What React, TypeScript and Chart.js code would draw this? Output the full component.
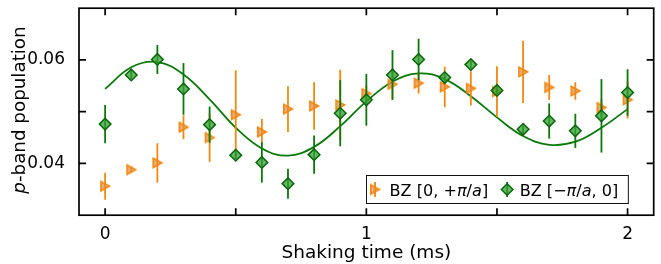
import React, { useEffect, useRef } from 'react';
import { Chart, registerables } from 'chart.js';

Chart.register(...registerables);

// ---- data ----
const times = [0, 0.1, 0.2, 0.3, 0.4, 0.5, 0.6, 0.7, 0.8, 0.9, 1.0, 1.1, 1.2, 1.3, 1.4, 1.5, 1.6, 1.7, 1.8, 1.9, 2.0];

const bzPlusValues = [0.0356, 0.0388, 0.0401, 0.0470, 0.0450, 0.0494, 0.0461, 0.0505, 0.0511, 0.0513, 0.0535, 0.0553, 0.0555, 0.0548, 0.0545, 0.0539, 0.0577, 0.0547, 0.0540, 0.0508, 0.0523];
const bzPlusErrors = [0.0026, 0.0006, 0.0038, 0.0023, 0.0047, 0.0086, 0.0025, 0.0044, 0.0046, 0.0068, 0.0015, 0.0030, 0.0020, 0.0039, 0.0033, 0.0049, 0.0060, 0.0024, 0.0017, 0.0016, 0.0036];

const bzMinusValues = [0.0476, 0.0571, 0.0601, 0.0544, 0.0475, 0.0416, 0.0402, 0.0361, 0.0417, 0.0497, 0.0523, 0.0571, 0.0601, 0.0566, 0.0591, 0.0541, 0.0466, 0.0482, 0.0463, 0.0492, 0.0537];
const bzMinusErrors = [0.0037, 0.0008, 0.0028, 0.0050, 0.0035, 0.0008, 0.0039, 0.0029, 0.0037, 0.0064, 0.0050, 0.0048, 0.0040, 0.0008, 0.0008, 0.0008, 0.0008, 0.0034, 0.0033, 0.0071, 0.0045];

const fitTimes = [0, 0.1, 0.2, 0.3, 0.4, 0.5, 0.6, 0.7, 0.8, 0.9, 1.0, 1.1, 1.2, 1.3, 1.4, 1.5, 1.6, 1.7, 1.8, 1.9, 2.0];
const fitValues = [0.0544, 0.0586, 0.0596, 0.0572, 0.0524, 0.0469, 0.0429, 0.0415, 0.0432, 0.0472, 0.0520, 0.0558, 0.0574, 0.0563, 0.0530, 0.0489, 0.0453, 0.0436, 0.0442, 0.0469, 0.0505];

const xTickValues = [0, 0.5, 1, 1.5, 2];
const xTickLabels = ['0', '', '1', '', '2'];
const yTickValues = [0.04, 0.05, 0.06];
const yTickLabels = ['0.04', '', '0.06'];

const xTitle = 'Shaking time (ms)';
const yTitleParts: [string, boolean][] = [['p', true], ['-band population', false]];
const legendPlusParts: [string, boolean][] = [['BZ [0, +', false], ['π', true], ['/', false], ['a', true], [']', false]];
const legendMinusParts: [string, boolean][] = [['BZ [−', false], ['π', true], ['/', false], ['a', true], [', 0]', false]];

// ---- styles ----
const FONT = '"DejaVu Sans"';
const ORANGE_EDGE = '#f0860c';
const ORANGE_FILL = 'rgba(228,140,60,0.72)';
const ORANGE_BAR = '#f0890f';
const GREEN_EDGE = '#0b650b';
const GREEN_FILL = 'rgba(50,160,50,0.75)';
const GREEN_BAR = '#0c780c';
const FIT_COLOR = '#0a780a';

function makeTriangle(fill: string, stroke: string): HTMLCanvasElement {
  const c = document.createElement('canvas');
  c.width = 14;
  c.height = 14;
  const g = c.getContext('2d')!;
  g.beginPath();
  g.moveTo(11.4, 7);
  g.lineTo(2.8, 2.2);
  g.lineTo(2.8, 11.8);
  g.closePath();
  g.fillStyle = fill;
  g.fill();
  g.lineWidth = 1.5;
  g.strokeStyle = stroke;
  g.stroke();
  return c;
}

function drawRich(ctx: CanvasRenderingContext2D, parts: [string, boolean][], x: number, y: number, size: number) {
  let cx = x;
  for (const [t, it] of parts) {
    ctx.font = `${it ? 'italic ' : ''}${size}px ${FONT}`;
    ctx.fillText(t, cx, y);
    cx += ctx.measureText(t).width;
  }
  return cx;
}

function richWidth(ctx: CanvasRenderingContext2D, parts: [string, boolean][], size: number) {
  let w = 0;
  for (const [t, it] of parts) {
    ctx.font = `${it ? 'italic ' : ''}${size}px ${FONT}`;
    w += ctx.measureText(t).width;
  }
  return w;
}

export default function App() {
  const ref = useRef<HTMLCanvasElement | null>(null);

  useEffect(() => {
    if (!ref.current) return;
    const tri = makeTriangle(ORANGE_FILL, ORANGE_EDGE);

    const decor = {
      id: 'decor',
      beforeDatasetDraw(chart: any, args: any) {
        const ds = chart.data.datasets[args.index];
        if (!ds.errors) return;
        const ys = chart.scales.y;
        const ctx = chart.ctx as CanvasRenderingContext2D;
        ctx.save();
        ctx.strokeStyle = ds.barColor;
        ctx.lineWidth = 1.8;
        args.meta.data.forEach((pt: any, i: number) => {
          const v = ds.data[i].y;
          const e = ds.errors[i];
          ctx.beginPath();
          ctx.moveTo(pt.x, ys.getPixelForValue(v + e));
          ctx.lineTo(pt.x, ys.getPixelForValue(v - e));
          ctx.stroke();
        });
        ctx.restore();
      },
      afterDraw(chart: any) {
        const ctx = chart.ctx as CanvasRenderingContext2D;
        const { left, right, top, bottom } = chart.chartArea;
        const xs = chart.scales.x;
        const ys = chart.scales.y;
        ctx.save();
        // ticks (inward, all four sides)
        ctx.strokeStyle = '#000';
        ctx.lineWidth = 1.7;
        const tl = 7;
        xTickValues.forEach((v) => {
          const px = xs.getPixelForValue(v);
          ctx.beginPath();
          ctx.moveTo(px, bottom);
          ctx.lineTo(px, bottom - tl);
          ctx.moveTo(px, top);
          ctx.lineTo(px, top + tl);
          ctx.stroke();
        });
        yTickValues.forEach((v) => {
          const py = ys.getPixelForValue(v);
          ctx.beginPath();
          ctx.moveTo(left, py);
          ctx.lineTo(left + tl, py);
          ctx.moveTo(right, py);
          ctx.lineTo(right - tl, py);
          ctx.stroke();
        });
        // frame
        ctx.lineWidth = 1.7;
        ctx.strokeRect(left, top, right - left, bottom - top);

        // legend
        const size = 16.1;
        const h1 = 375;
        const t1 = 389.5;
        const w1 = richWidth(ctx, legendPlusParts, size);
        const h2 = t1 + w1 + 19;
        const t2 = h2 + 12.5;
        const w2 = richWidth(ctx, legendMinusParts, size);
        const bx = 366.5;
        const by = 175.5;
        const bw = t2 + w2 + 10 - bx;
        const bh = 28;
        ctx.fillStyle = '#fff';
        ctx.fillRect(bx, by, bw, bh);
        ctx.strokeStyle = '#111';
        ctx.lineWidth = 1;
        ctx.strokeRect(bx, by, bw, bh);
        const cy = 189.5;
        // orange handle
        ctx.strokeStyle = ORANGE_BAR;
        ctx.lineWidth = 1.8;
        ctx.beginPath();
        ctx.moveTo(h1, cy - 7.5);
        ctx.lineTo(h1, cy + 7.5);
        ctx.stroke();
        ctx.drawImage(tri, h1 - tri.width / 2, cy - tri.height / 2);
        // green handle
        ctx.strokeStyle = GREEN_BAR;
        ctx.beginPath();
        ctx.moveTo(h2, cy - 7.5);
        ctx.lineTo(h2, cy + 7.5);
        ctx.stroke();
        const r = 5.8;
        ctx.beginPath();
        ctx.moveTo(h2, cy - r);
        ctx.lineTo(h2 + r, cy);
        ctx.lineTo(h2, cy + r);
        ctx.lineTo(h2 - r, cy);
        ctx.closePath();
        ctx.fillStyle = GREEN_FILL;
        ctx.fill();
        ctx.strokeStyle = GREEN_EDGE;
        ctx.lineWidth = 1.5;
        ctx.stroke();
        // legend texts
        ctx.fillStyle = '#000';
        ctx.textBaseline = 'alphabetic';
        ctx.textAlign = 'left';
        drawRich(ctx, legendPlusParts, t1, 195.5, size);
        drawRich(ctx, legendMinusParts, t2, 195.5, size);

        // y title
        const ysz = 18.3;
        const yw = richWidth(ctx, yTitleParts, ysz);
        ctx.translate(24.5, 110);
        ctx.rotate(-Math.PI / 2);
        drawRich(ctx, yTitleParts, -yw / 2, 0, ysz);
        ctx.restore();
      },
    };

    const chart = new Chart(ref.current, {
      type: 'scatter',
      data: {
        datasets: [
          {
            label: 'BZ [−π/a, 0]',
            data: times.map((t, i) => ({ x: t, y: bzMinusValues[i] })),
            errors: bzMinusErrors,
            barColor: GREEN_BAR,
            pointStyle: 'rectRot',
            pointRadius: 5.8,
            pointHoverRadius: 5.8,
            backgroundColor: GREEN_FILL,
            borderColor: GREEN_EDGE,
            borderWidth: 1.5,
            showLine: false,
          } as any,
          {
            label: 'BZ [0, +π/a]',
            data: times.map((t, i) => ({ x: t, y: bzPlusValues[i] })),
            errors: bzPlusErrors,
            barColor: ORANGE_BAR,
            pointStyle: tri,
            pointRadius: 5,
            pointHoverRadius: 5,
            backgroundColor: ORANGE_FILL,
            borderColor: ORANGE_EDGE,
            showLine: false,
          } as any,
          {
            type: 'line',
            label: 'fit',
            data: fitTimes.map((t, i) => ({ x: t, y: fitValues[i] })),
            borderColor: FIT_COLOR,
            borderWidth: 1.8,
            pointRadius: 0,
            tension: 0.4,
            fill: false,
          } as any,
        ],
      },
      options: {
        animation: false,
        responsive: false,
        devicePixelRatio: 1,
        layout: { padding: { top: 8.2, right: 6.5, left: 0, bottom: 0 } },
        plugins: { legend: { display: false }, tooltip: { enabled: false } },
        events: [],
        scales: {
          x: {
            type: 'linear',
            min: -0.1,
            max: 2.1,
            grid: { display: false },
            border: { display: false },
            afterBuildTicks: (s: any) => {
              s.ticks = xTickValues.map((v) => ({ value: v }));
            },
            afterFit: (s: any) => {
              s.height = 48.8;
              s.paddingLeft = 0;
              s.paddingRight = 0;
            },
            ticks: {
              autoSkip: false,
              maxRotation: 0,
              padding: 1,
              color: '#000',
              font: { family: FONT, size: 17 },
              callback: (_v: any, i: number) => xTickLabels[i],
            },
            title: {
              display: true,
              text: xTitle,
              color: '#000',
              font: { family: FONT, size: 18.5 },
              padding: { top: 0, bottom: 0 },
            },
          },
          y: {
            type: 'linear',
            min: 0.03,
            max: 0.07,
            grid: { display: false },
            border: { display: false },
            afterBuildTicks: (s: any) => {
              s.ticks = yTickValues.map((v) => ({ value: v }));
            },
            afterFit: (s: any) => {
              s.width = 79;
              s.paddingTop = 0;
              s.paddingBottom = 0;
            },
            ticks: {
              autoSkip: false,
              padding: 6,
              color: '#000',
              font: { family: FONT, size: 17 },
              callback: (_v: any, i: number) => yTickLabels[i],
            },
          },
        },
      } as any,
      plugins: [decor],
    });
    return () => chart.destroy();
  }, []);

  return (
    <div style={{ position: 'absolute', left: 0, top: 0, width: 661, height: 264, background: '#fff' }}>
      <canvas ref={ref} width={661} height={264} style={{ width: 661, height: 264, display: 'block' }} />
    </div>
  );
}
